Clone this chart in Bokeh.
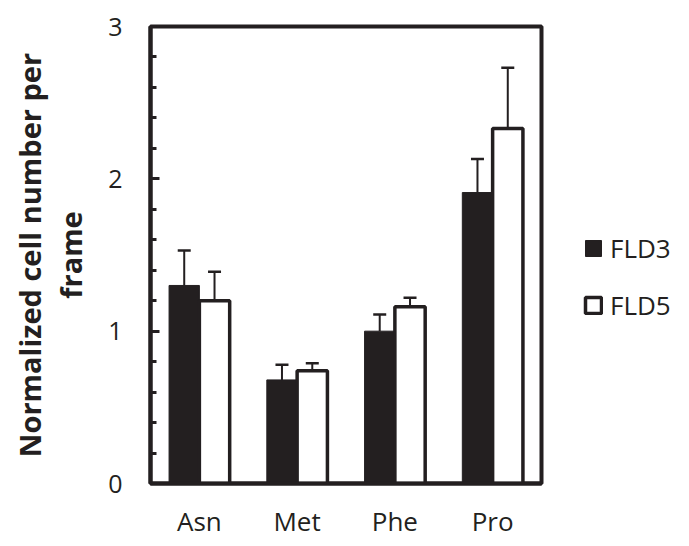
from bokeh.plotting import figure
from bokeh.models import (ColumnDataSource, FactorRange, Range1d, Whisker, TeeHead,
                          Legend, LegendItem, FixedTicker)
from bokeh.transform import dodge
from bokeh.embed import file_html
from bokeh.resources import INLINE

categories = ["Asn", "Met", "Phe", "Pro"]
fld3 = [1.30, 0.68, 1.00, 1.91]
fld3_err = [0.23, 0.10, 0.11, 0.22]
fld5 = [1.20, 0.74, 1.16, 2.33]
fld5_err = [0.19, 0.05, 0.06, 0.40]
y_ticks = [0, 1, 2, 3]

FONT = "Open Sans"
INK = "#231f20"

src = ColumnDataSource(dict(
    cat=categories,
    fld3=fld3,
    fld3_up=[v + e for v, e in zip(fld3, fld3_err)],
    fld5=fld5,
    fld5_up=[v + e for v, e in zip(fld5, fld5_err)],
))

p = figure(x_range=FactorRange(*categories), y_range=Range1d(0, 3),
           frame_width=391, frame_height=457,
           min_border_left=150, min_border_top=26, min_border_bottom=60, min_border_right=10,
           output_backend="svg", toolbar_location=None)
p.grid.visible = False
p.outline_line_color = INK
p.outline_line_width = 4
p.background_fill_color = "white"
p.border_fill_color = "white"

BW = 0.31
r3 = p.vbar(x=dodge("cat", -BW / 2, range=p.x_range), top="fld3", width=BW, source=src,
            fill_color=INK, line_color=INK, line_width=1)
r5 = p.vbar(x=dodge("cat", BW / 2, range=p.x_range), top="fld5", width=BW, source=src,
            fill_color="white", line_color=INK, line_width=3.5)

for off, top, up in [(-BW / 2, "fld3", "fld3_up"), (BW / 2, "fld5", "fld5_up")]:
    w = Whisker(base=dodge("cat", off, range=p.x_range), lower=top, upper=up, source=src,
                line_color=INK, line_width=2,
                upper_head=TeeHead(size=13, line_color=INK, line_width=2.5),
                lower_head=None)
    p.add_layout(w)

# y axis
ya = p.yaxis[0]
ya.ticker = FixedTicker(ticks=y_ticks, minor_ticks=[i * 0.2 for i in range(16)])
ya.axis_line_width = 4
ya.axis_line_color = INK
ya.major_tick_in = 9
ya.major_tick_out = 0
ya.minor_tick_in = 6
ya.minor_tick_out = 0
ya.major_tick_line_width = 3
ya.minor_tick_line_width = 3
ya.major_tick_line_color = INK
ya.minor_tick_line_color = INK
ya.major_label_text_font = FONT
ya.major_label_text_font_size = "25px"
ya.major_label_text_color = INK
ya.major_label_standoff = 28
ya.axis_label = "Normalized cell number per\nframe"
ya.axis_label_text_font = FONT
ya.axis_label_text_font_style = "bold"
ya.axis_label_text_font_size = "29px"
ya.axis_label_text_line_height = 1.05
ya.axis_label_text_color = INK
ya.axis_label_standoff = 15

# x axis
xa = p.xaxis[0]
xa.axis_line_width = 4
xa.axis_line_color = INK
xa.major_tick_line_color = None
xa.minor_tick_line_color = None
xa.major_label_text_font = FONT
xa.major_label_text_font_size = "26px"
xa.major_label_text_color = INK
xa.major_label_standoff = 13

legend = Legend(items=[LegendItem(label="FLD3", renderers=[r3]),
                       LegendItem(label="FLD5", renderers=[r5])],
                location=(42, 160), orientation="vertical",
                glyph_width=20, glyph_height=20, label_height=30,
                label_text_font=FONT, label_text_font_size="26px", label_text_color=INK,
                label_standoff=7, spacing=21, padding=0, margin=0,
                border_line_color=None, background_fill_alpha=0)
p.add_layout(legend, "right")

open("out.html", "w").write(file_html(p, INLINE))
